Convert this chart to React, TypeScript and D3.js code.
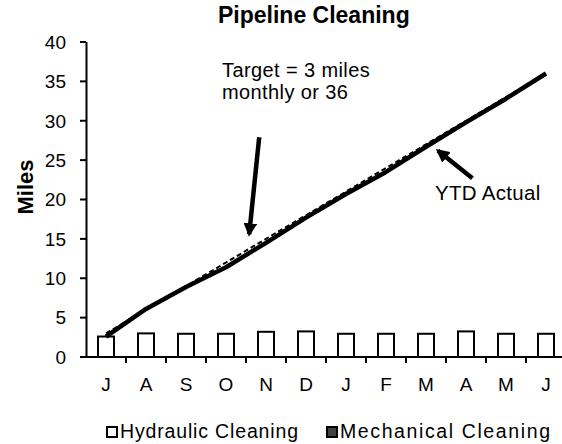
import React from "react";
import * as d3 from "d3";

const months = ["J", "A", "S", "O", "N", "D", "J", "F", "M", "A", "M", "J"];
const hydraulic = [2.6, 3.0, 2.95, 2.95, 3.2, 3.25, 2.95, 2.95, 2.95, 3.25, 2.95, 2.95];
const mechanical = [0, 0, 0, 0, 0, 0, 0, 0, 0, 0, 0, 0];
const ytdActual = [2.6, 6.1, 8.9, 11.4, 14.5, 17.7, 20.7, 23.5, 26.7, 29.8, 32.8, 36.0];
const target = [3, 6, 9, 12, 15, 18, 21, 24, 27, 30, 33, 36];
const yTicks = [0, 5, 10, 15, 20, 25, 30, 35, 40];

const W = 562;
const H = 444;
const FONT = "Liberation Sans, Arial, sans-serif";

export default function App() {
  const keys = months.map((_, i) => String(i));
  const x = d3.scaleBand<string>().domain(keys).range([86, 566]).paddingInner(0.6).paddingOuter(0.3);
  const step = x.step();
  const x0 = 86 + step / 2;
  const xc = (i: number) => x0 + i * step;
  const y = d3.scaleLinear().domain([0, 40]).range([357, 42]);

  const line = d3
    .line<number>()
    .x((_, i) => xc(i))
    .y((d) => y(d));

  const barW = 16;

  return (
    <svg width={W} height={H} style={{ position: "absolute", left: 0, top: 0, background: "#fff" }}>
      <defs>
        <marker id="ah" viewBox="0 0 10 10" refX="8" refY="5" markerWidth="3" markerHeight="3" orient="auto">
          <path d="M0,0 L10,5 L0,10 z" fill="#000" />
        </marker>
      </defs>
      <text x={218} y={23} fontFamily={FONT} fontWeight="bold" fontSize={23}>
        Pipeline Cleaning
      </text>

      {/* y axis */}
      <line x1={86.5} x2={86.5} y1={y(40)} y2={y(0)} stroke="#000" strokeWidth={2} />
      {yTicks.map((t) => (
        <g key={t}>
          <line x1={80} x2={86} y1={y(t)} y2={y(t)} stroke="#000" strokeWidth={2} />
          <text x={66} y={y(t) + 6.8} textAnchor="end" fontFamily={FONT} fontSize={19}>
            {t}
          </text>
        </g>
      ))}
      <text transform={`translate(33,187) rotate(-90)`} textAnchor="middle" fontFamily={FONT} fontWeight="bold" fontSize={22}>
        Miles
      </text>

      {/* x axis */}
      <line x1={80} x2={566} y1={y(0)} y2={y(0)} stroke="#000" strokeWidth={2} />
      {months.map((_, i) => (
        <line key={i} x1={86 + (i + 1) * step} x2={86 + (i + 1) * step} y1={y(0)} y2={y(0) + 6} stroke="#000" strokeWidth={2} />
      ))}
      {months.map((m, i) => (
        <text key={i} x={xc(i)} y={391} textAnchor="middle" fontFamily={FONT} fontSize={19}>
          {m}
        </text>
      ))}

      {/* bars */}
      {hydraulic.map((v, i) => (
        <rect
          key={i}
          x={xc(i) - barW / 2}
          y={y(v)}
          width={barW}
          height={y(0) - y(v)}
          fill="#fff"
          stroke="#000"
          strokeWidth={2}
        />
      ))}
      {mechanical.map((v, i) =>
        v > 0 ? (
          <rect key={"m" + i} x={xc(i) - barW / 2} y={y(v)} width={barW} height={y(0) - y(v)} fill="#404040" stroke="#000" />
        ) : null
      )}

      {/* actual */}
      <path d={line(ytdActual) || ""} fill="none" stroke="#000" strokeWidth={4.5} strokeLinejoin="round" />
      {/* target dashed */}
      <path d={line(target) || ""} fill="none" stroke="#000" strokeWidth={2} strokeDasharray="5,3" />

      {/* annotations */}
      <text x={222} y={77} fontFamily={FONT} fontSize={20} letterSpacing={0.4}>
        Target = 3 miles
      </text>
      <text x={222} y={99} fontFamily={FONT} fontSize={20} letterSpacing={0.4}>
        monthly or 36
      </text>
      <line x1={xc(3.83)} y1={y(27.9)} x2={xc(3.58)} y2={y(15.6)} stroke="#000" strokeWidth={4.5} markerEnd="url(#ah)" />
      <line x1={xc(9.16)} y1={y(22.7)} x2={xc(8.3)} y2={y(26.2)} stroke="#000" strokeWidth={4.5} markerEnd="url(#ah)" />
      <text x={435} y={200} fontFamily={FONT} fontSize={20.5} letterSpacing={0.3}>
        YTD Actual
      </text>

      {/* legend */}
      <rect x={107} y={427} width={10} height={10} fill="#fff" stroke="#000" strokeWidth={2} />
      <text x={120} y={438} fontFamily={FONT} fontSize={19.5} textLength={178} lengthAdjust="spacing">
        Hydraulic Cleaning
      </text>
      <rect x={327} y={427} width={10} height={10} fill="#404040" stroke="#000" strokeWidth={2} />
      <text x={340} y={438} fontFamily={FONT} fontSize={19.5} textLength={210} lengthAdjust="spacing">
        Mechanical Cleaning
      </text>
    </svg>
  );
}
